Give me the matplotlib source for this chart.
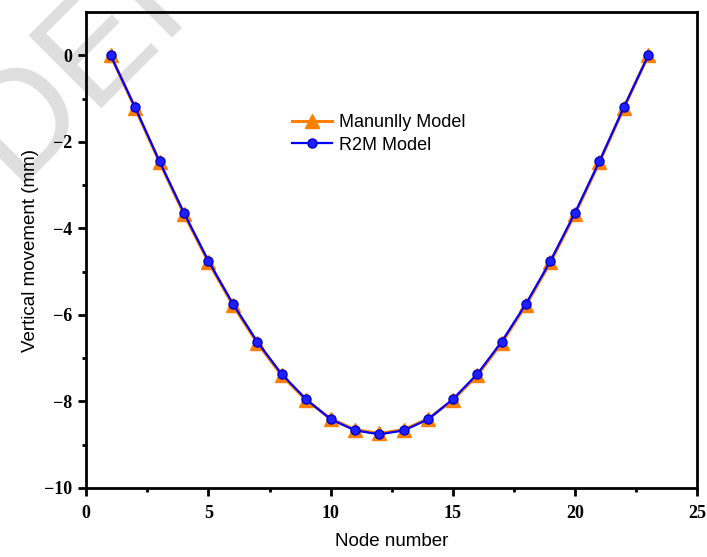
import matplotlib
matplotlib.use("Agg")
import matplotlib.pyplot as plt
import numpy as np

nodes = list(range(1, 24))
manual_vals = [0.0, -1.22, -2.47, -3.67, -4.78, -5.77, -6.65, -7.40, -7.97, -8.40,
               -8.65, -8.74, -8.65, -8.40, -7.97, -7.40, -6.65, -5.77, -4.78, -3.67,
               -2.47, -1.22, 0.0]
r2m_vals = [0.0, -1.20, -2.45, -3.64, -4.75, -5.74, -6.62, -7.37, -7.95, -8.41,
            -8.67, -8.76, -8.67, -8.41, -7.95, -7.37, -6.62, -5.74, -4.75, -3.64,
            -2.45, -1.20, 0.0]

fig = plt.figure(figsize=(7.07, 5.57), dpi=100)
ax = fig.add_axes([0.122, 0.124, 0.864, 0.854])
ax.set_zorder(2)
ax.patch.set_alpha(0)

# watermark
fig.text(0.02, 0.67, "DEF", fontsize=108, color="#dedede", rotation=45,
         ha="left", va="baseline", family="Liberation Sans", zorder=0,
         rotation_mode="anchor")

ax.plot(nodes, manual_vals, color="#FF8000", lw=2.2, marker="^", ms=10,
        label="Manunlly Model", zorder=3)
ax.plot(nodes, r2m_vals, color="#0000FF", lw=1.6, marker="o", ms=6.5,
        markeredgecolor="#0000CC", markerfacecolor="#2020FF",
        label="R2M Model", zorder=4)

ax.set_xlim(0, 25)
ax.set_ylim(-10, 1)
ax.set_xticks([0, 5, 10, 15, 20, 25])
ax.set_yticks([-10, -8, -6, -4, -2, 0])
ax.set_xticks(np.arange(2.5, 25, 5), minor=True)
ax.set_yticks(np.arange(-9, 1, 2), minor=True)
ax.set_yticklabels(["\u221210", "\u22128", "\u22126", "\u22124", "\u22122", "0"])

for s in ax.spines.values():
    s.set_linewidth(2)
ax.tick_params(which="major", direction="out", length=6, width=2,
               top=False, right=False, labelsize=13)
ax.tick_params(axis="x", which="major", pad=6)
ax.tick_params(axis="y", which="major", pad=4)
ax.tick_params(which="minor", direction="out", length=3, width=2,
               top=False, right=False)
for lab in ax.get_xticklabels() + ax.get_yticklabels():
    lab.set_family("Liberation Serif")
    lab.set_fontweight("bold")

ax.set_xlabel("Node number", family="Liberation Sans", fontsize=13.5, labelpad=8)
ax.set_ylabel("Vertical movement (mm)", family="Liberation Sans", fontsize=13.5, labelpad=4)

leg = ax.legend(loc="upper left", bbox_to_anchor=(0.31, 0.82), frameon=False,
                prop={"family": "Liberation Sans", "size": 13},
                handlelength=2.2, labelspacing=0.3, handletextpad=0.4)

fig.savefig("out.png", dpi=100)
